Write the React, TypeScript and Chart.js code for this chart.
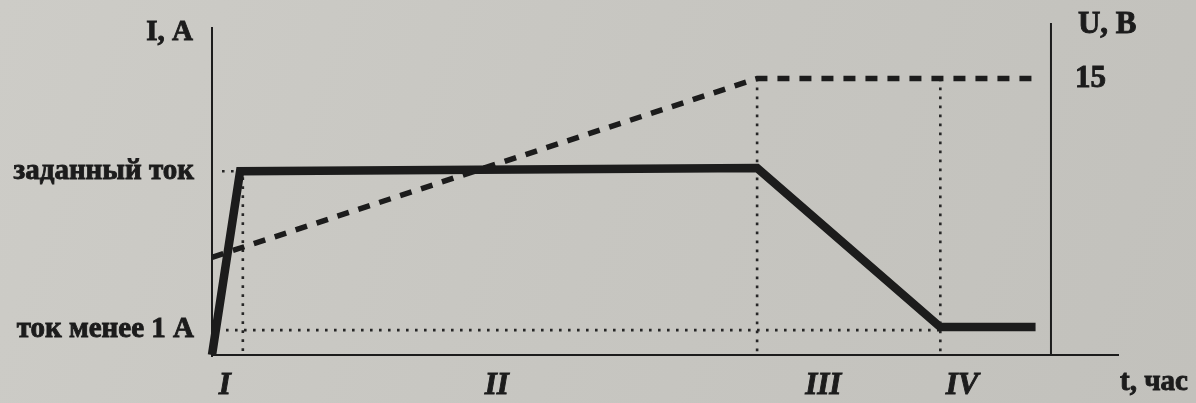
import React, { useEffect, useRef } from "react";
import { Chart, registerables } from "chart.js";

Chart.register(...registerables);

// time axis (relative units, 0..100)
const currentT = [0, 3.1, 60.1, 80.3, 90.8];
const currentI = [0, 56, 57, 8.5, 8.5];
const voltageT = [0, 60.1, 90.8];
const voltageU = [5.3, 15, 15];

const setCurrent = 56;
const lowCurrent = 8.5;
const guideT = [3.4, 60.1, 80.3];
const phaseLabels = ["I", "II", "III", "IV"];
const phaseLabelT = [1.4, 31.4, 67.4, 82.7];
const rightAxisT = 92.5;
const voltageTick = 15;

const leftLabels = ["заданный ток", "ток менее 1 А"];
const leftLabelValues = [setCurrent, lowCurrent];

const INK = "#1c1c1c";
const FONT = "'Liberation Serif', 'DejaVu Serif', serif";

function heavyText(ctx: any, t: string, x: number, y: number) {
  ctx.fillText(t, x, y);
  ctx.strokeText(t, x, y);
}

const decor = {
  id: "decor",
  beforeDraw(chart: any) {
    const { ctx, width, height } = chart;
    ctx.save();
    const g = ctx.createLinearGradient(0, 0, width, height);
    g.addColorStop(0, "#cdccc7");
    g.addColorStop(0.5, "#c7c6c1");
    g.addColorStop(1, "#c2c1bc");
    ctx.fillStyle = g;
    ctx.fillRect(0, 0, width, height);
    ctx.restore();
  },
  beforeDatasetsDraw(chart: any) {
    const { ctx, chartArea } = chart;
    const x = chart.scales.x;
    const y = chart.scales.y;
    const y2 = chart.scales.y2;
    ctx.save();
    // axes
    ctx.strokeStyle = INK;
    ctx.lineWidth = 2;
    ctx.beginPath();
    ctx.moveTo(chartArea.left, chartArea.top);
    ctx.lineTo(chartArea.left, chartArea.bottom + 2);
    ctx.moveTo(chartArea.left, chartArea.bottom);
    ctx.lineTo(chartArea.right, chartArea.bottom);
    const rx = x.getPixelForValue(rightAxisT);
    ctx.moveTo(rx, chartArea.top - 4);
    ctx.lineTo(rx, chartArea.bottom);
    ctx.stroke();

    // dotted guides
    ctx.lineWidth = 2.6;
    ctx.setLineDash([2.6, 6.4]);
    ctx.strokeStyle = "#262626";
    const ySet = y.getPixelForValue(setCurrent);
    const yLow = y.getPixelForValue(lowCurrent) + 3;
    const yU = y2.getPixelForValue(voltageTick);
    ctx.beginPath();
    ctx.moveTo(chartArea.left + 10, ySet);
    ctx.lineTo(x.getPixelForValue(guideT[0]), ySet);
    ctx.moveTo(x.getPixelForValue(guideT[0]), ySet + 6);
    ctx.lineTo(x.getPixelForValue(guideT[0]), chartArea.bottom);
    ctx.moveTo(chartArea.left + 14, yLow);
    ctx.lineTo(x.getPixelForValue(guideT[2]), yLow);
    ctx.moveTo(x.getPixelForValue(guideT[1]), yU);
    ctx.lineTo(x.getPixelForValue(guideT[1]), chartArea.bottom);
    ctx.moveTo(x.getPixelForValue(guideT[2]), yU);
    ctx.lineTo(x.getPixelForValue(guideT[2]), chartArea.bottom);
    ctx.stroke();
    ctx.restore();
  },
  afterDraw(chart: any) {
    const { ctx, chartArea } = chart;
    const x = chart.scales.x;
    const y = chart.scales.y;
    const y2 = chart.scales.y2;
    ctx.save();
    ctx.fillStyle = INK;
    ctx.strokeStyle = INK;
    ctx.lineWidth = 0.9;
    ctx.textBaseline = "middle";
    ctx.font = `bold 29px ${FONT}`;
    ctx.textAlign = "right";
    heavyText(ctx, "I, A", 193, chartArea.top + 6);
    leftLabels.forEach((t, i) => {
      heavyText(ctx, t, 194, y.getPixelForValue(leftLabelValues[i]) + (i === 1 ? 2 : 0));
    });
    ctx.textAlign = "left";
    const rx = x.getPixelForValue(rightAxisT);
    ctx.font = `bold 31px ${FONT}`;
    heavyText(ctx, "U, B", rx + 27, 25);
    heavyText(ctx, String(voltageTick), rx + 24, y2.getPixelForValue(voltageTick));
    ctx.font = `bold 29px ${FONT}`;
    heavyText(ctx, "t, час", chartArea.right + 1, 383);
    ctx.font = `italic bold 31px ${FONT}`;
    ctx.textAlign = "center";
    phaseLabels.forEach((t, i) => {
      heavyText(ctx, t, x.getPixelForValue(phaseLabelT[i]), 386);
    });
    ctx.restore();
  },
};

export default function App() {
  const ref = useRef<HTMLCanvasElement>(null);
  useEffect(() => {
    document.body.style.margin = "0";
    const chart = new Chart(ref.current!, {
      type: "line",
      data: {
        datasets: [
          {
            label: "I",
            data: currentT.map((t, i) => ({ x: t, y: currentI[i] })),
            borderColor: INK,
            borderWidth: 8.5,
            pointRadius: 0,
            borderJoinStyle: "miter",
            borderCapStyle: "butt",
            yAxisID: "y",
            clip: false,
          } as any,
          {
            label: "U",
            data: voltageT.map((t, i) => ({ x: t, y: voltageU[i] })),
            borderColor: INK,
            borderWidth: 5.5,
            borderDash: [12, 10],
            pointRadius: 0,
            yAxisID: "y2",
            clip: false,
          } as any,
        ],
      },
      plugins: [decor],
      options: {
        responsive: false,
        animation: false,
        devicePixelRatio: 1,
        layout: { padding: { left: 212, right: 77, top: 27, bottom: 48 } },
        plugins: { legend: { display: false }, tooltip: { enabled: false } },
        scales: {
          x: { type: "linear", min: 0, max: 100, display: false },
          y: { type: "linear", min: 0, max: 100, display: false },
          y2: { type: "linear", min: 0, max: 17.8, display: false, position: "right" },
        },
      } as any,
    });
    return () => chart.destroy();
  }, []);
  return (
    <div style={{ position: "absolute", left: 0, top: 0, width: 1196, height: 403 }}>
      <canvas ref={ref} width={1196} height={403} style={{ display: "block" }} />
    </div>
  );
}
